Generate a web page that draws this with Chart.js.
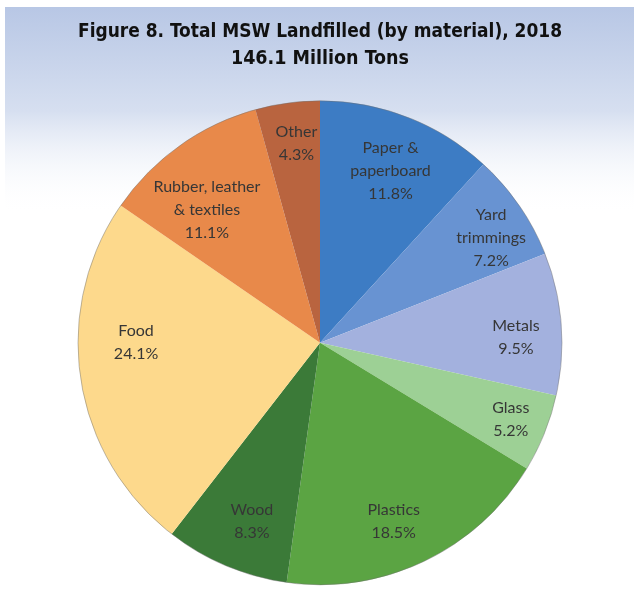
<!DOCTYPE html>
<html>
<head>
<meta charset="utf-8">
<script src="https://cdn.jsdelivr.net/npm/chart.js@4/dist/chart.umd.min.js"></script>
<style>
    html, body { margin: 0; padding: 0; background: #ffffff; }
    #wrap { width: 634px; height: 589px; position: relative; }
</style>
</head>
<body>
<div id="wrap"><canvas id="mswChart"></canvas></div>
<script>
// Data
const materials = ['Paper & paperboard', 'Yard trimmings', 'Metals', 'Glass', 'Plastics', 'Wood', 'Food', 'Rubber, leather & textiles', 'Other'];
const labelLines = [['Paper &', 'paperboard'], ['Yard', 'trimmings'], ['Metals'], ['Glass'], ['Plastics'], ['Wood'], ['Food'], ['Rubber, leather', '& textiles'], ['Other']];
const shares = [11.8, 7.2, 9.5, 5.2, 18.5, 8.3, 24.1, 11.1, 4.3];
const sliceColors = ['#3d7cc4', '#6893d2', '#a3b1de', '#9dd095', '#5ba443', '#3b7a38', '#fdd98c', '#e8894a', '#b9643f'];

// Label placement: fraction of radius, and angle nudge in degrees
const labelRadius = [0.77, 0.83, 0.81, 0.85, 0.80, 0.79, 0.76, 0.72, 0.83];
const labelNudge = [1, 3, 3, 0, 3, -2, 9, -5, 1];

// Light blue band behind the title
const backgroundPlugin = {
    id: 'background',
    beforeDraw(chart) {
        const ctx = chart.ctx;
        ctx.save();
        ctx.fillStyle = '#ffffff';
        ctx.fillRect(0, 0, chart.width, chart.height);
        const grad = ctx.createLinearGradient(0, 7, 0, 215);
        grad.addColorStop(0, '#b8c7e5');
        grad.addColorStop(0.5, '#d6dff0');
        grad.addColorStop(1, 'rgba(255,255,255,0)');
        ctx.fillStyle = grad;
        ctx.fillRect(5, 7, chart.width - 5, 208);
        ctx.restore();
    }
};

// Thin outline plus the text inside each slice
const sliceLabelPlugin = {
    id: 'sliceLabels',
    afterDatasetsDraw(chart) {
        const ctx = chart.ctx;
        const arcs = chart.getDatasetMeta(0).data;
        ctx.save();
        const first = arcs[0];
        ctx.beginPath();
        ctx.arc(first.x, first.y, first.outerRadius, 0, Math.PI * 2);
        ctx.strokeStyle = 'rgba(110,110,110,0.45)';
        ctx.lineWidth = 1;
        ctx.stroke();

        ctx.font = '16px Lato, "Noto Sans", sans-serif';
        ctx.fillStyle = '#363636';
        ctx.textAlign = 'center';
        ctx.textBaseline = 'middle';
        arcs.forEach((arc, i) => {
            const mid = (arc.startAngle + arc.endAngle) / 2 + labelNudge[i] * Math.PI / 180;
            const r = arc.outerRadius * labelRadius[i];
            const cx = arc.x + Math.cos(mid) * r;
            const cy = arc.y + Math.sin(mid) * r;
            const lines = labelLines[i].concat([shares[i].toFixed(1) + '%']);
            const lineH = 23;
            const top = cy - (lines.length - 1) * lineH / 2;
            lines.forEach((txt, k) => ctx.fillText(txt, cx, top + k * lineH));
        });
        ctx.restore();
    }
};

new Chart(document.getElementById('mswChart'), {
    type: 'pie',
    data: {
        labels: materials,
        datasets: [{
            data: shares,
            backgroundColor: sliceColors,
            borderWidth: 0
        }]
    },
    options: {
        responsive: true,
        maintainAspectRatio: false,
        animation: false,
        layout: { padding: { top: 0, bottom: 4, left: 78, right: 72 } },
        plugins: {
            legend: { display: false },
            tooltip: { enabled: false },
            title: {
                display: true,
                text: ['Figure 8. Total MSW Landfilled (by material), 2018', '146.1 Million Tons'],
                color: '#111111',
                font: { family: '"Liberation Sans Narrow", "DejaVu Sans Condensed", sans-serif', size: 19.5, weight: 'bold', lineHeight: 1.35 },
                padding: { top: 19, bottom: 29 }
            }
        }
    },
    plugins: [backgroundPlugin, sliceLabelPlugin]
});
</script>
</body>
</html>
